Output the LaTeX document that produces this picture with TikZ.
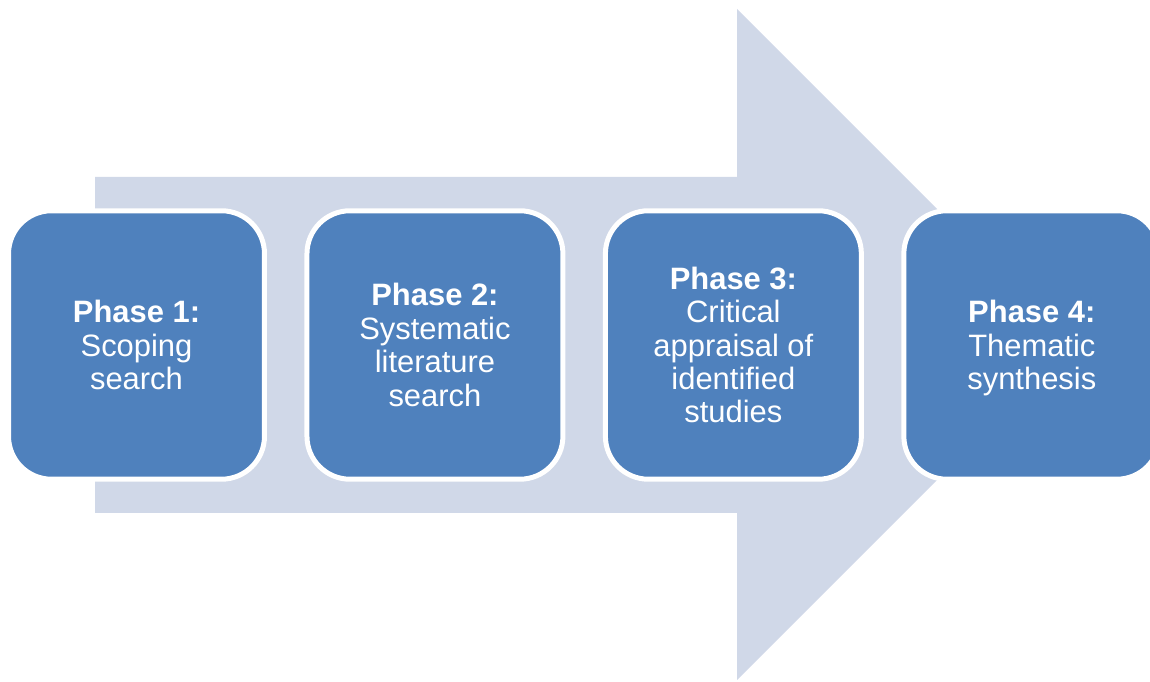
\documentclass[tikz,border=0pt]{standalone}
\usepackage{fontspec}
\setmainfont{Liberation Sans}
\usepackage{xcolor}
\usepackage{tikz}
\usetikzlibrary{positioning}

\definecolor{phaseblue}{HTML}{4F81BD}
\definecolor{arrowgrey}{HTML}{D0D8E8}

\begin{document}
\begin{tikzpicture}[
    x=0.02cm, y=0.02cm,
    phasebox/.style={rectangle, rounded corners=0.86cm, draw=white, line width=0.1cm, fill=phaseblue, text=white, minimum width=5.12cm, minimum height=5.37cm, outer sep=0pt, align=center, font=\fontsize{17.6}{19}\selectfont}
]
\useasboundingbox (0,0) rectangle (1150,682);
\fill[arrowgrey] (95,169) -- (95,505) -- (737,505) -- (737,673) -- (1072.5,337.5) -- (737,2) -- (737,169) -- cycle;
\node[phasebox](p1) at (136.5,337){\textbf{Phase 1:}\\Scoping\\search};
\node[phasebox](p2)[right = 0.85cm of p1]{\textbf{Phase 2:}\\Systematic\\literature\\search};
\node[phasebox](p3)[right = 0.85cm of p2]{\textbf{Phase 3:}\\Critical\\appraisal of\\identified\\studies};
\node[phasebox, text depth=0pt](p4)[right = 0.85cm of p3]{\textbf{Phase 4:}\\Thematic\\synthesis};
\end{tikzpicture}
\end{document}
